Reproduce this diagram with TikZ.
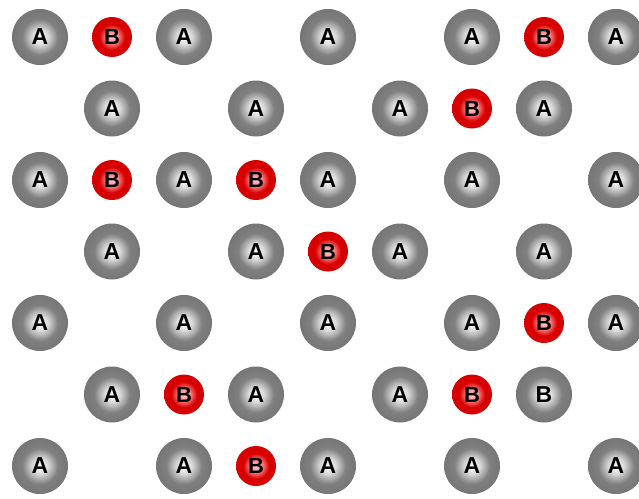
\documentclass[tikz,border=0pt]{standalone}
\usepackage{fontspec}
\setmainfont{Liberation Sans}
\pgfdeclareradialshading{ballA}{\pgfpoint{0bp}{0bp}}{%
  color(0bp)=(white); color(7bp)=(white!85!black); color(16bp)=(black!50);
  color(30bp)=(black!56); color(42bp)=(black!66); color(50bp)=(black!80); color(100bp)=(black!80)}
\pgfdeclareradialshading{ballB}{\pgfpoint{0bp}{0bp}}{%
  color(0bp)=(red!20!white); color(7bp)=(red!45!white); color(16bp)=(red!85!black);
  color(32bp)=(red!82!black); color(42bp)=(red!70!black); color(50bp)=(red!45!black); color(100bp)=(red!45!black)}
\tikzset{
  atomA/.style={circle, inner sep=0pt, minimum size=56pt, shading=ballA,
    font=\fontsize{23}{23}\selectfont\bfseries, text=black},
  atomB/.style={circle, inner sep=0pt, minimum size=40pt, shading=ballB,
    font=\fontsize{22}{22}\selectfont\bfseries, text=black},
}
\begin{document}
\begin{tikzpicture}[x=1pt,y=-1pt]
\useasboundingbox (0,0) rectangle (639,498);
\clip (0,0) rectangle (639,498);
\fill[white] (0,0) rectangle (639,498);
% row 1
\node[atomA] (r1c1) at (40,37) {A};
\node[atomB] (r1c2) at (112,37) {B};
\node[atomA] (r1c3) at (184,37) {A};
\node[atomA] (r1c5) at (328,37) {A};
\node[atomA] (r1c7) at (472,37) {A};
\node[atomB] (r1c8) at (544,37) {B};
\node[atomA] (r1c9) at (616,37) {A};
% row 2
\node[atomA] (r2c2) at (112,108.5) {A};
\node[atomA] (r2c4) at (256,108.5) {A};
\node[atomA] (r2c6) at (400,108.5) {A};
\node[atomB] (r2c7) at (472,108.5) {B};
\node[atomA] (r2c8) at (544,108.5) {A};
% row 3
\node[atomA] (r3c1) at (40,180) {A};
\node[atomB] (r3c2) at (112,180) {B};
\node[atomA] (r3c3) at (184,180) {A};
\node[atomB] (r3c4) at (256,180) {B};
\node[atomA] (r3c5) at (328,180) {A};
\node[atomA] (r3c7) at (472,180) {A};
\node[atomA] (r3c9) at (616,180) {A};
% row 4
\node[atomA] (r4c2) at (112,251.5) {A};
\node[atomA] (r4c4) at (256,251.5) {A};
\node[atomB] (r4c5) at (328,251.5) {B};
\node[atomA] (r4c6) at (400,251.5) {A};
\node[atomA] (r4c8) at (544,251.5) {A};
% row 5
\node[atomA] (r5c1) at (40,323) {A};
\node[atomA] (r5c3) at (184,323) {A};
\node[atomA] (r5c5) at (328,323) {A};
\node[atomA] (r5c7) at (472,323) {A};
\node[atomB] (r5c8) at (544,323) {B};
\node[atomA] (r5c9) at (616,323) {A};
% row 6
\node[atomA] (r6c2) at (112,394.5) {A};
\node[atomB] (r6c3) at (184,394.5) {B};
\node[atomA] (r6c4) at (256,394.5) {A};
\node[atomA] (r6c6) at (400,394.5) {A};
\node[atomB] (r6c7) at (472,394.5) {B};
\node[atomA] (r6c8) at (544,394.5) {B};
% row 7
\node[atomA] (r7c1) at (40,466) {A};
\node[atomA] (r7c3) at (184,466) {A};
\node[atomB] (r7c4) at (256,466) {B};
\node[atomA] (r7c5) at (328,466) {A};
\node[atomA] (r7c7) at (472,466) {A};
\node[atomA] (r7c9) at (616,466) {A};
\end{tikzpicture}
\end{document}
